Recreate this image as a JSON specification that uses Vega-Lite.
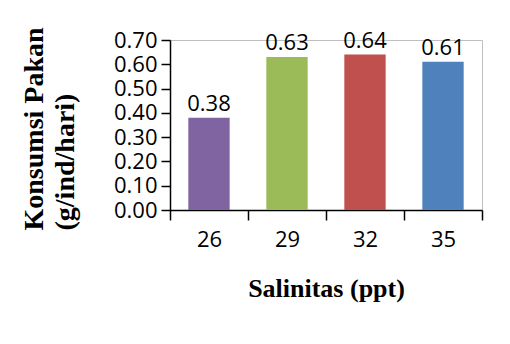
{
  "$schema": "https://vega.github.io/schema/vega-lite/v6.json",
  "autosize": "none",
  "width": 312,
  "height": 170,
  "padding": {"left": 170, "top": 40, "right": 28, "bottom": 134},
  "background": "white",
  "config": {
    "view": {"stroke": "#bfbfbf", "strokeWidth": 1},
    "font": "Open Sans"
  },
  "data": {
    "values": [
      {"salinitas": "26", "konsumsi": 0.38},
      {"salinitas": "29", "konsumsi": 0.63},
      {"salinitas": "32", "konsumsi": 0.64},
      {"salinitas": "35", "konsumsi": 0.61}
    ]
  },
  "encoding": {
    "x": {
      "field": "salinitas",
      "type": "nominal",
      "sort": null,
      "scale": {"paddingInner": 0, "paddingOuter": 0},
      "axis": {
        "title": "Salinitas (ppt)",
        "titleFont": "Liberation Serif",
        "titleFontWeight": "bold",
        "titleFontSize": 26,
        "titleColor": "black",
        "titleBaseline": "alphabetic",
        "titleY": 86,
        "labelAngle": 0,
        "labelFont": "Open Sans",
        "labelFontSize": 22,
        "labelColor": "black",
        "labelPadding": 9,
        "tickBand": "extent",
        "tickSize": 10,
        "tickColor": "black",
        "tickWidth": 1.5,
        "domainColor": "black",
        "domainWidth": 1.5
      }
    },
    "y": {
      "field": "konsumsi",
      "type": "quantitative",
      "scale": {"domain": [0, 0.7], "nice": false},
      "axis": {
        "values": [0, 0.1, 0.2, 0.3, 0.4, 0.5, 0.6, 0.7],
        "format": ".2f",
        "grid": false,
        "title": ["Konsumsi Pakan", "(g/ind/hari)"],
        "titleFont": "Liberation Serif",
        "titleFontWeight": "bold",
        "titleFontSize": 28,
        "titleColor": "black",
        "titleAlign": "left",
        "titleBaseline": "alphabetic",
        "titleLineHeight": 31,
        "titleX": -128,
        "titleY": 190,
        "labelFont": "Open Sans",
        "labelFontSize": 22,
        "labelColor": "black",
        "labelPadding": 4,
        "tickSize": 9,
        "tickColor": "black",
        "tickWidth": 1.5,
        "domainColor": "black",
        "domainWidth": 1.5
      }
    }
  },
  "layer": [
    {
      "mark": {"type": "bar", "width": {"band": 0.53}},
      "encoding": {
        "color": {
          "field": "salinitas",
          "type": "nominal",
          "scale": {"domain": ["26", "29", "32", "35"], "range": ["#8064A2", "#9BBB59", "#C0504D", "#4F81BD"]},
          "legend": null
        }
      }
    },
    {
      "mark": {"type": "text", "baseline": "alphabetic", "dy": -7, "font": "Open Sans", "fontSize": 22, "color": "black"},
      "encoding": {
        "text": {"field": "konsumsi", "type": "quantitative", "format": ".2f"}
      }
    }
  ]
}
